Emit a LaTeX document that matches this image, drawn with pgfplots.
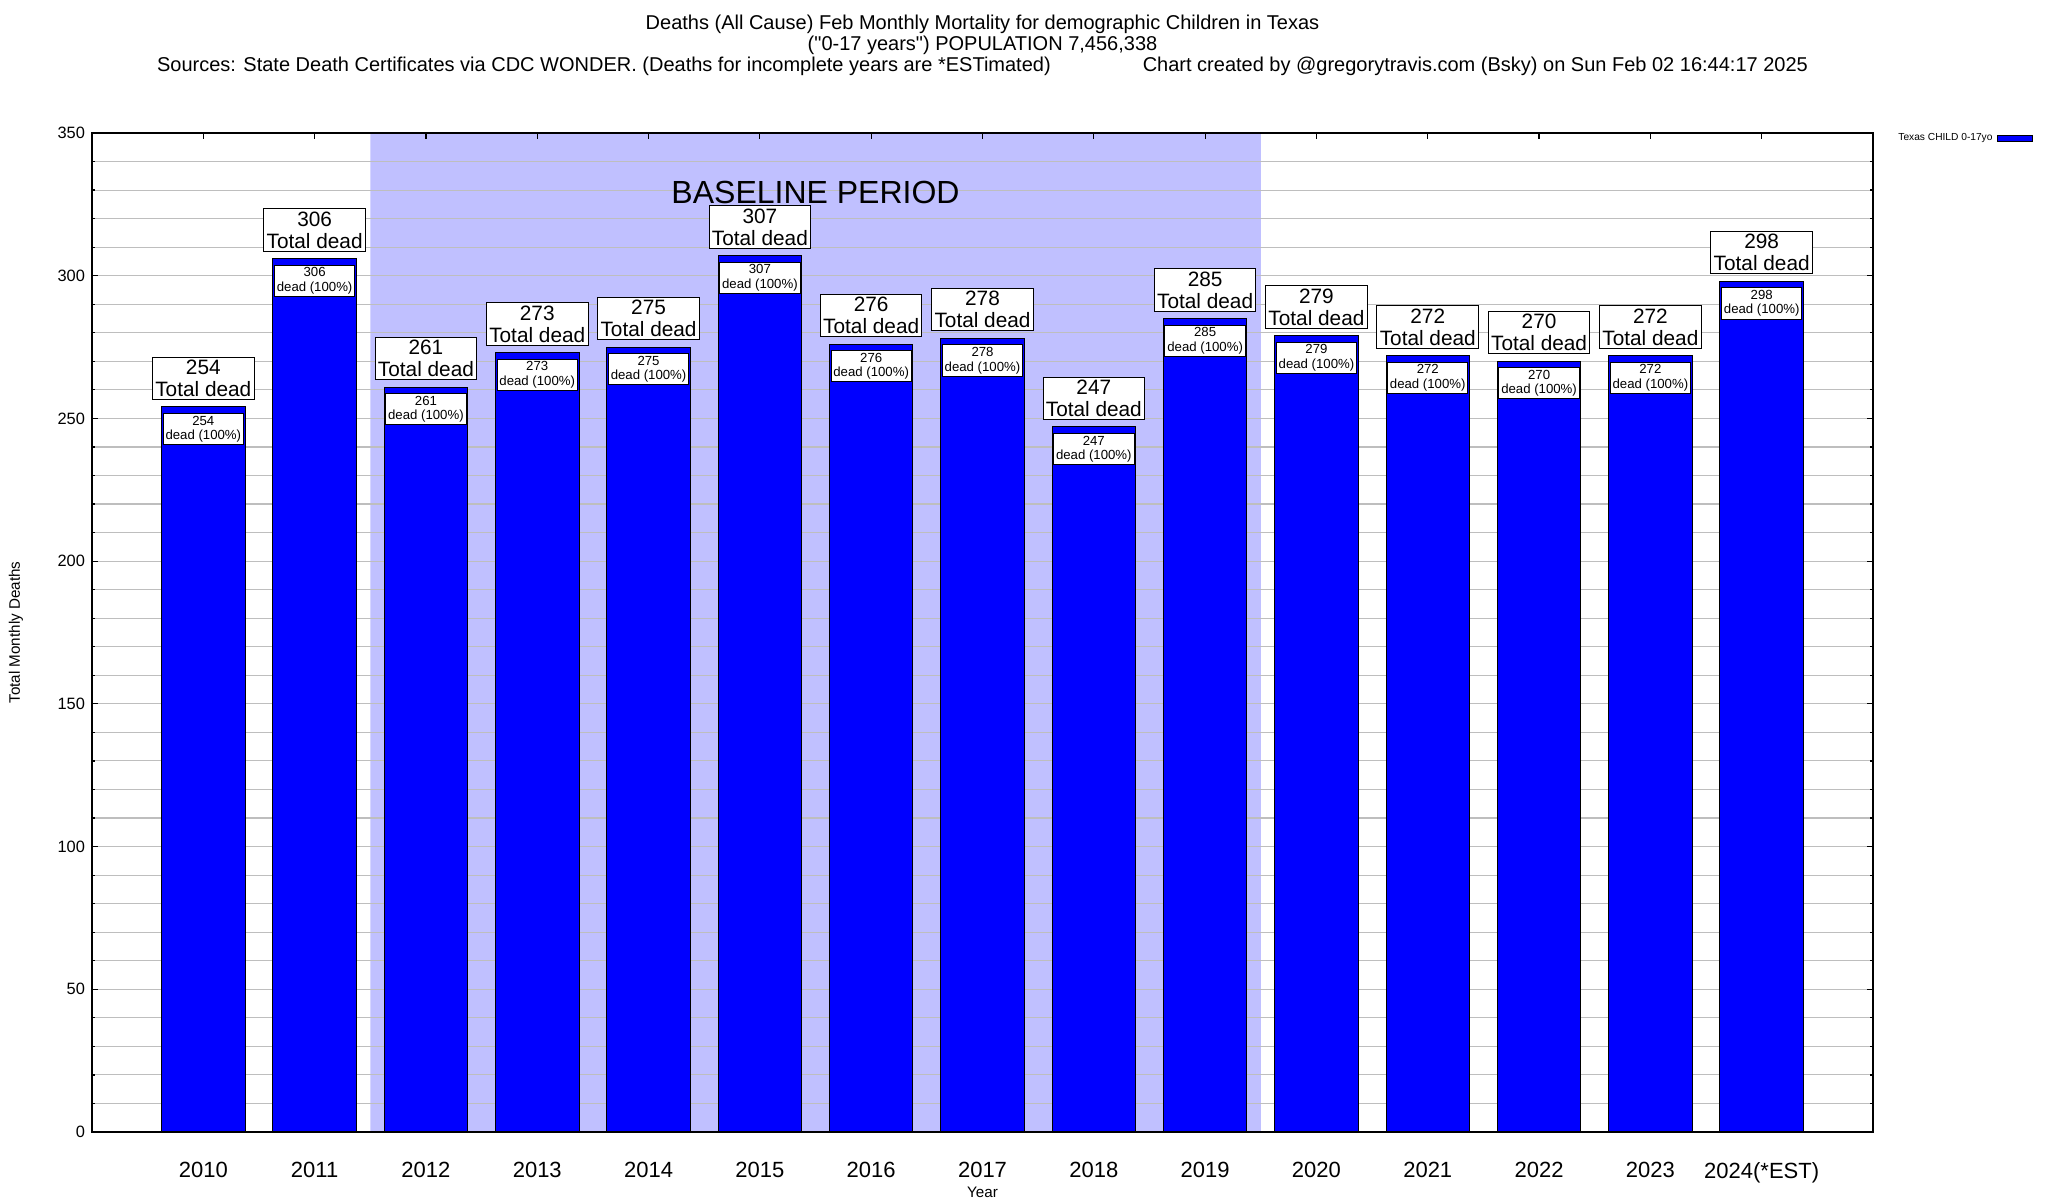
\documentclass[border=0pt]{standalone}
\usepackage{fontspec}
\setmainfont{Liberation Sans}
\usepackage{pgfplots}
\usepackage{pgfplotstable}
\pgfplotsset{compat=1.18}

\definecolor{barblue}{RGB}{0,0,255}
\definecolor{baseline}{RGB}{192,192,255}
\definecolor{gridgray}{RGB}{190,190,190}

% Feb deaths, Texas children 0-17
\pgfplotstableread{
x deaths
0 254
1 306
2 261
3 273
4 275
5 307
6 276
7 278
8 247
9 285
10 279
11 272
12 270
13 272
14 298
}\deaths

\begin{document}
\begin{tikzpicture}[x=1pt,y=1pt]
\begin{axis}[
    set layers=standard,
    at={(46pt,34pt)}, anchor=south west,
    scale only axis,
    width=890.5pt, height=499.5pt,
    xmin=-1, xmax=15,
    ymin=0, ymax=350,
    xtick={0,...,14},
    xticklabels={2010,2011,2012,2013,2014,2015,2016,2017,2018,2019,2020,2021,2022,2023,2024(*EST)},
    ytick={0,50,...,350},
    minor y tick num=4,
    ymajorgrids, yminorgrids,
    grid style={gridgray, line width=0.55pt},
    minor grid style={gridgray, line width=0.55pt},
    axis line style={line width=0.75pt},
    tick style={black, line width=0.6pt},
    major tick length=3pt, minor tick length=1.6pt,
    tick align=inside,
    /pgf/number format/assume math mode=true,
    yticklabel style={font=\fontsize{8.2}{9}\selectfont},
    xticklabel style={font=\fontsize{11}{12}\selectfont, yshift=-11.5pt},
    xlabel={Year},
    ylabel={Total Monthly Deaths},
    label style={font=\fontsize{7.6}{8}\selectfont},
    xlabel style={at={(axis description cs:0.5,-0.06)}, anchor=center},
    ylabel style={at={(axis description cs:-0.0427,0.5)}, anchor=center},
    legend plot pos=right,
    legend style={at={(axis description cs:1,1)}, anchor=north west,
        xshift=10.5pt, yshift=2pt, draw=none, fill=none, inner sep=0pt,
        font=\fontsize{5.1}{6}\selectfont},
    legend image code/.code={\draw[fill=barblue, draw=black, line width=0.4pt] (0pt,-1.5pt) rectangle (17.5pt,1.5pt);},
]
% baseline period shading
\addplot[fill=baseline, draw=none, forget plot, on layer=axis background]
    coordinates {(1.5,0) (1.5,350) (9.5,350) (9.5,0)} \closedcycle;

\addplot[ybar, bar shift=0pt, bar width=0.75, fill=barblue, draw=black, line width=0.5pt]
    table[x=x, y=deaths] {\deaths};
\addlegendentry{Texas CHILD 0-17yo}

% outer labels
\addplot[draw=none, mark=none, forget plot,
    nodes near coords={\pgfmathprintnumber{\pgfplotspointmeta}\\Total dead},
    every node near coord/.append style={anchor=south, yshift=3.5pt, align=center,
        draw=black, fill=white, inner sep=1.4pt, line width=0.5pt,
        font=\fontsize{10.4}{11}\selectfont},
] table[x=x, y=deaths] {\deaths};

% inner labels
\addplot[draw=none, mark=none, forget plot,
    nodes near coords={\pgfmathprintnumber{\pgfplotspointmeta}\\dead (100\%)},
    every node near coord/.append style={anchor=north, yshift=-3pt, align=center,
        draw=black, fill=white, inner sep=1.2pt, line width=0.5pt,
        font=\fontsize{6.6}{7.2}\selectfont},
] table[x=x, y=deaths] {\deaths};

\node[font=\fontsize{16}{18}\selectfont] at (axis cs:5.5,329) {BASELINE PERIOD};
\end{axis}

\node[align=center, font=\fontsize{10}{10.6}\selectfont] at (491.25,577.2)
    {Deaths (All Cause) Feb Monthly Mortality for demographic Children in Texas\\
     (\textquotedbl 0-17 years\textquotedbl) POPULATION 7,456,338\\
     Sources: State Death Certificates via CDC WONDER. (Deaths for incomplete years are *ESTimated)\hspace{46pt}Chart created by @gregorytravis.com (Bsky) on Sun Feb 02 16:44:17 2025};
\path (0,0) rectangle (1024,600);
\end{tikzpicture}
\end{document}
